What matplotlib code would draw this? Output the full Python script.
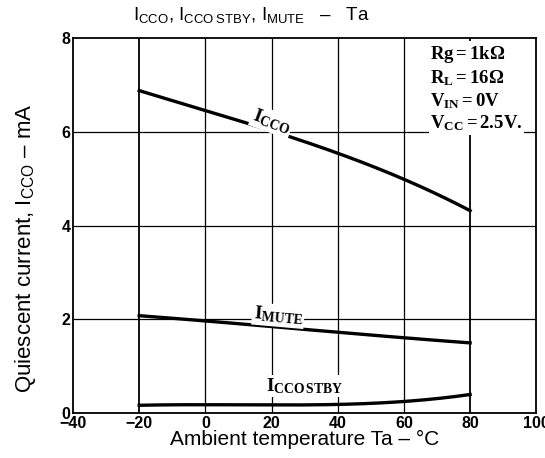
import matplotlib
matplotlib.use("Agg")
import matplotlib.pyplot as plt
import numpy as np

temps = [-20, 0, 20, 40, 60, 80]
icco = [6.88, 6.45, 6.02, 5.55, 4.98, 4.32]
imute = [2.08, 1.96, 1.85, 1.73, 1.60, 1.50]
istby = [0.17, 0.17, 0.18, 0.19, 0.24, 0.40]
xticks = [-40, -20, 0, 20, 40, 60, 80, 100]
yticks = [0, 2, 4, 6, 8]

plt.rcParams['font.family'] = ['Liberation Sans', 'DejaVu Sans']
plt.rcParams['mathtext.fontset'] = 'custom'
plt.rcParams['mathtext.rm'] = 'Liberation Serif'
plt.rcParams['mathtext.it'] = 'Liberation Serif'
plt.rcParams['mathtext.bf'] = 'Liberation Serif:bold'

fig = plt.figure(figsize=(5.45, 4.58), dpi=100)
ax = fig.add_axes([0.134, 0.098, 0.850, 0.819])
ax.set_xlim(-40, 100)
ax.set_ylim(0, 8)

for xv in [0, 20, 40, 60]:
    ax.axvline(xv, color='black', lw=0.9, zorder=1)
for xv in [-20, 80]:
    ax.axvline(xv, color='black', lw=1.3, zorder=1)
for yv in [2, 4, 6]:
    ax.axhline(yv, color='black', lw=0.9, zorder=1)

xs = np.linspace(-20, 80, 200)
def smooth(vals):
    c = np.polyfit(temps, vals, 3)
    return np.polyval(c, xs)
ax.plot(xs, smooth(icco), color='black', lw=2.4, zorder=2)
ax.plot(xs, smooth(imute), color='black', lw=2.4, zorder=2)
ax.plot(xs, smooth(istby), color='black', lw=2.4, zorder=2)

for s in ax.spines.values():
    s.set_linewidth(1.3)

ax.set_xticks(xticks)
ax.set_yticks(yticks)
ax.set_xticklabels(['\u221240', '\u221220', '0', '20', '40', '60', '80', '100'])
ax.tick_params(length=0, labelsize=11.5, pad=2)
for lab in ax.get_xticklabels() + ax.get_yticklabels():
    lab.set_fontweight('bold')

bb = dict(facecolor='white', edgecolor='none', pad=1)
ax.text(20, 6.22, r'$\mathbf{I_{CCO}}$', fontsize=14, rotation=-20, ha='center', va='center', bbox=bb, zorder=3)
ax.text(22, 2.08, r'$\mathbf{I_{MUTE}}$', fontsize=14, rotation=-5, ha='center', va='center', bbox=bb, zorder=3)
ax.text(30, 0.58, r'$\mathbf{I_{CCO\,STBY}}$', fontsize=14, ha='center', va='center', bbox=bb, zorder=3)

cond = (r'$\mathbf{Rg=1k\Omega}$' + '\n' + r'$\mathbf{R_L=16\Omega}$' + '\n' +
        r'$\mathbf{V_{IN}=0V}$' + '\n' + r'$\mathbf{V_{CC}=2.5V.}$')
ax.text(68, 7.87, cond, fontsize=13.5, ha='left', va='top', linespacing=1.2,
        bbox=dict(facecolor='white', edgecolor='none', pad=1), zorder=3)

fig.text(0.462, 0.967, r'$\mathregular{I_{CCO}}$, $\mathregular{I_{CCO\;STBY}}$, $\mathregular{I_{MUTE}}$   ' + '\u2013   Ta',
         fontsize=13.5, ha='center', va='center')
ax.set_xlabel('Ambient temperature Ta \u2013 \u00b0C', fontsize=15, labelpad=-1)
ax.set_ylabel(r'Quiescent current, $\mathregular{I_{CCO}}$ ' + '\u2013 mA', fontsize=16, labelpad=12)
ax.yaxis.set_label_coords(-0.075, 0.44)

fig.savefig('out.png', dpi=100)
